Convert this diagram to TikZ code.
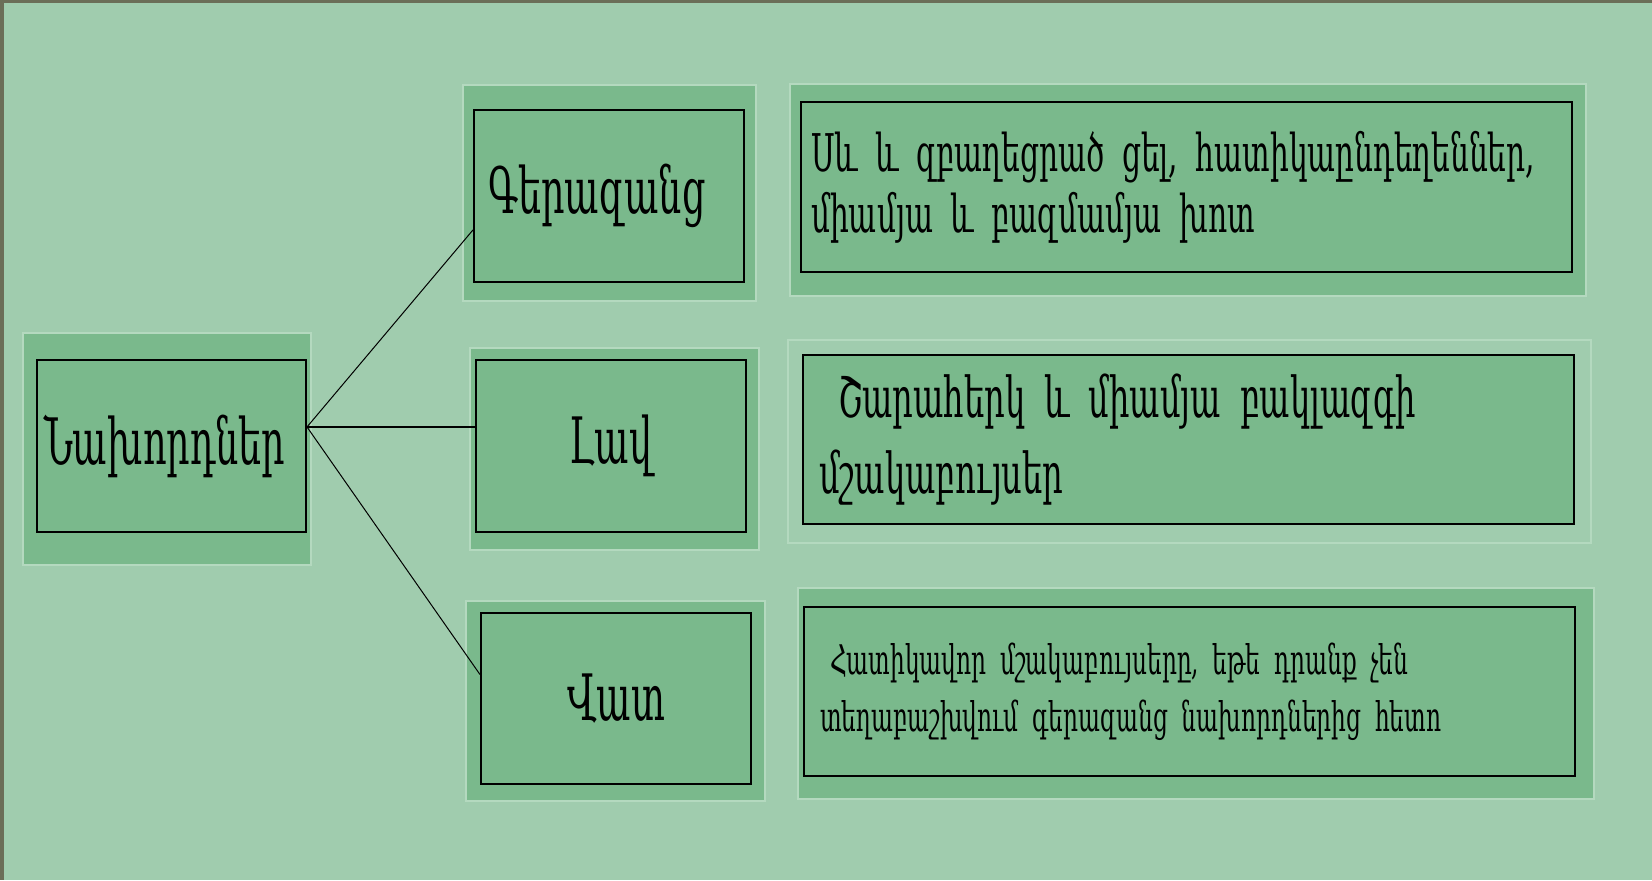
\documentclass[tikz,border=0pt]{standalone}
\usepackage{fontspec}
\newfontfamily\armfont{DejaVu Serif}[FakeStretch=0.57]
\newcommand\armsize[2]{\armfont\fontsize{#1}{#2}\selectfont\fontdimen2\font=0.1em\spaceskip=0.1em plus 0.05em minus 0.02em\relax}

\definecolor{bgGreen}{HTML}{A0CCAE}
\definecolor{plateGreen}{HTML}{7AB98C}
\definecolor{plateEdge}{HTML}{B4D9BF}
\definecolor{frameGrey}{HTML}{6B6E58}

\tikzset{
  plate/.style={draw=plateEdge, line width=0.6pt, fill=plateGreen, inner sep=0pt},
  box/.style={draw=black, fill=plateGreen, line width=1pt, inner sep=0pt},
  word/.style={box, minimum width=135pt, minimum height=86pt, font=\armsize{32}{38}},
  note/.style={box, minimum width=385.5pt, minimum height=85pt, align=left},
  link/.style={line width=0.5pt},
}

\begin{document}
\begin{tikzpicture}[x=0.5pt,y=-0.5pt]
  \useasboundingbox (0,0) rectangle (1652,880);
  \fill[frameGrey] (0,0) rectangle (1652,880);
  \fill[bgGreen] (4,3) rectangle (1652,880);

  % plates behind the boxes
  \node[plate, minimum width=144pt, minimum height=116pt] (predP) at (167,449) {};
  \node[plate, minimum width=146.5pt, minimum height=108pt] (gerP) at (609.5,193) {};
  \node[plate, minimum width=144.5pt, minimum height=101pt] (lavP) at (614.5,449) {};
  \node[plate, minimum width=149.5pt, minimum height=100pt] (vatP) at (615.5,701) {};
  \node[plate, minimum width=398pt, minimum height=106pt] (r1P) at (1188,190) {};
  \node[plate, fill=bgGreen, minimum width=401.5pt, minimum height=101.5pt] (r2P) at (1189.5,441.5) {};
  \node[plate, minimum width=398pt, minimum height=105.5pt] (r3P) at (1196,693.5) {};

  % left and middle boxes
  \node[word, minimum width=134.5pt, text width=127.5pt, inner xsep=3.5pt, align=left] (pred) at (171.5,446)
    {Նախորդներ};
  \node[word, text width=121pt, inner xsep=7pt, align=left] (ger) at (609,196) {Գերազանց};
  \node[word] (lav) at (611,446) {Լավ};
  \node[word, minimum height=85.5pt] (vat) at (616,698.5) {Վատ};

  % right boxes
  \node[note, inner xsep=5pt, text width=375.5pt, font=\armsize{26}{30.5}] (r1) at (1186.5,187)
    {Սև և զբաղեցրած ցել, հատիկաընդեղեններ,\\ միամյա և բազմամյա խոտ};
  \node[note, minimum height=84.5pt, inner xsep=8pt, text width=369.5pt, font=\armsize{28.2}{38}] (r2) at (1188.5,439.5)
    {\hspace*{9.5pt}Շարահերկ և միամյա բակլազգի\\ մշակաբույսեր};
  \node[note, minimum height=84.5pt, inner xsep=8pt, text width=369.5pt, font=\armsize{20.4}{28.5}] (r3) at (1189.5,691.5)
    {\hspace*{5pt}Հատիկավոր մշակաբույսերը, եթե դրանք չեն\\ տեղաբաշխվում գերազանց նախորդներից հետո};

  % links
  \draw[link] (pred.8) -- (ger.194);
  \draw[link, line width=0.9pt] (pred.8) -- (lav.172);
  \draw[link] (pred.8) -- (vat.170);
\end{tikzpicture}
\end{document}
